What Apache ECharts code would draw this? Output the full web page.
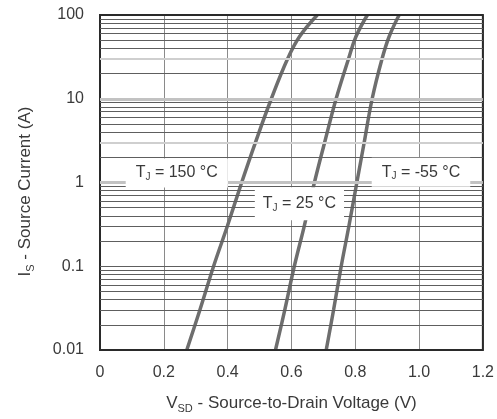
<!DOCTYPE html>
<html>
<head>
<meta charset="utf-8">
<script src="https://cdn.jsdelivr.net/npm/echarts@6/dist/echarts.min.js"></script>
<style>html,body{margin:0;padding:0;background:#fff}#c{width:497px;height:419px}</style>
</head>
<body>
<div id="c"></div>
<script>
// Source current levels (A) at which voltages were read
const current = [0.01, 0.03, 0.1, 0.3, 1, 3, 10, 30, 55, 100];
// Source-to-drain voltage (V) per junction temperature
const v150 = [0.272, 0.313, 0.356, 0.399, 0.444, 0.487, 0.537, 0.588, 0.625, 0.681];
const v25  = [0.550, 0.579, 0.609, 0.640, 0.672, 0.704, 0.740, 0.779, 0.802, 0.838];
const vm55 = [0.709, 0.732, 0.756, 0.780, 0.805, 0.828, 0.853, 0.884, 0.906, 0.9375];
const xTickLabels = ['0', '0.2', '0.4', '0.6', '0.8', '1.0', '1.2'];
const yTickLabels = ['0.01', '0.1', '1', '10', '100'];
const minorGrid = [0.02,0.03,0.04,0.05,0.06,0.07,0.08,0.09,0.1,
                   0.2,0.3,0.4,0.5,0.6,0.7,0.8,0.9,
                   2,4,5,6,7,8,9,
                   20,40,50,60,70,80,90];
const decadeGrid = [1, 10];
const softGrid = [3, 30];

const pts = v => v.map((x, i) => [x, current[i]]);
const txt = '#3a3a3a';
const font = 'Liberation Sans, Arial, sans-serif';
const rich = {
  n: {fontSize: 16, color: txt, fontFamily: font},
  s: {fontSize: 10, color: txt, fontFamily: font, verticalAlign: 'bottom', padding: [9, 0, 0, 0]}
};
function tag(label, coord, pad) {
  return {
    symbol: 'rect', symbolSize: 1, itemStyle: {color: 'rgba(0,0,0,0)'},
    data: [{coord: coord}],
    label: {show: true, position: 'inside', formatter: label, rich: rich,
      backgroundColor: '#fff', padding: pad}
  };
}
function gridLines(values, color, width) {
  return {type: 'line', data: [], silent: true,
    markLine: {silent: true, symbol: 'none', label: {show: false}, animation: false,
      lineStyle: {color: color, width: width, type: 'solid'},
      data: values.map(v => ({yAxis: v}))}};
}
const lineStyle = {color: '#6e6e6e', width: 3.5};
const titleRich = {n: {fontSize: 17, color: txt, fontFamily: font},
  s: {fontSize: 11, color: txt, fontFamily: font, verticalAlign: 'bottom', padding: [10, 0, 0, 0]}};
const chart = echarts.init(document.getElementById('c'));
chart.setOption({
  animation: false,
  grid: {left: 100, right: 13, top: 15, bottom: 67, show: true, borderColor: '#2a2a2a', borderWidth: 2, z: 5},
  xAxis: {
    type: 'value', min: 0, max: 1.2, interval: 0.2,
    axisLine: {show: false}, axisTick: {show: false},
    splitLine: {show: true, lineStyle: {color: '#8a8a8a', width: 1}},
    axisLabel: {color: txt, fontSize: 16, fontFamily: font, margin: 15,
      formatter: v => xTickLabels[Math.round(v / 0.2)]},
    name: '{n|V}{s|SD}{n| - Source-to-Drain Voltage (V)}',
    nameLocation: 'middle', nameGap: 43,
    nameTextStyle: {rich: titleRich}
  },
  yAxis: {
    type: 'log', logBase: 10, min: 0.01, max: 100,
    axisLine: {show: false}, axisTick: {show: false},
    splitLine: {show: false},
    axisLabel: {color: txt, fontSize: 16, fontFamily: font, margin: 16,
      formatter: v => yTickLabels[Math.round(Math.log10(v)) + 2]},
    name: '{n|I}{s|S}{n| - Source Current (A)}',
    nameLocation: 'middle', nameGap: 64,
    nameTextStyle: {rich: titleRich, padding: [0, 18, 0, 0]}
  },
  series: [
    gridLines(softGrid, '#cfcfcf', 2),
    gridLines(decadeGrid, '#c2c2c2', 3),
    gridLines(minorGrid, '#5e5e5e', 1),
    {name: '150', type: 'line', smooth: 0.4, showSymbol: false, data: pts(v150), lineStyle: lineStyle, z: 3,
     markPoint: tag('{n|T}{s|J}{n| = 150 °C}', [0.2406, 1.30], [5, 10, 5, 10])},
    {name: '25', type: 'line', smooth: 0.4, showSymbol: false, data: pts(v25), lineStyle: lineStyle, z: 3,
     markPoint: tag('{n|T}{s|J}{n| = 25 °C}', [0.625, 0.556], [7, 8, 7, 8])},
    {name: '-55', type: 'line', smooth: 0.4, showSymbol: false, data: pts(vm55), lineStyle: lineStyle, z: 3,
     markPoint: tag('{n|T}{s|J}{n| = -55 °C}', [1.006, 1.33], [5, 10, 5, 10])}
  ]
});
</script>
</body>
</html>
